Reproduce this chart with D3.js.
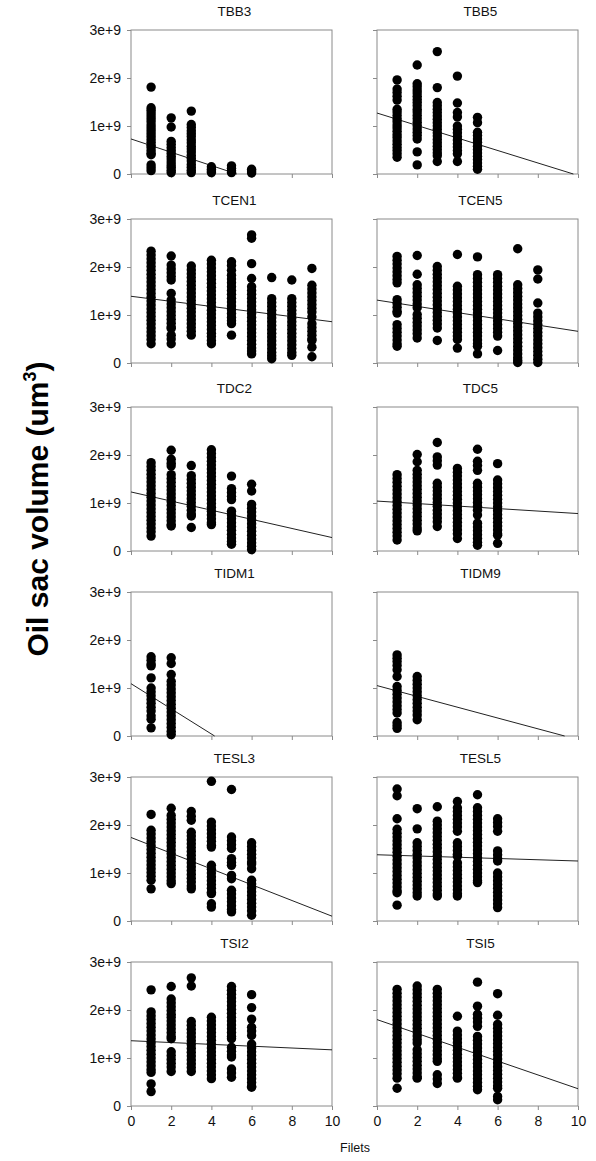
<!DOCTYPE html>
<html><head><meta charset="utf-8">
<script src="https://cdn.jsdelivr.net/npm/d3@7"></script>
<style>
body{margin:0;background:#fff}
svg{display:block}
text{font-family:Arial,"Liberation Sans",sans-serif}
</style>
</head><body>
<svg id="chart" width="596" height="1161"></svg>
<script>
// Values are oil sac volumes in units of 1e9 um^3, one array per filet (x = 1, 2, 3 ...)
const UNIT = 1e9;
const TBB3 = [
 [1.81,1.38,1.33,1.27,1.21,1.15,1.09,1.02,0.96,0.90,0.84,0.78,0.72,0.66,0.60,0.55,0.49,0.43,0.40,0.19,0.13,0.07],
 [1.17,0.98,0.68,0.62,0.55,0.49,0.43,0.37,0.31,0.25,0.19,0.14,0.08,0.03],
 [1.31,1.03,0.97,0.90,0.84,0.78,0.71,0.65,0.58,0.52,0.46,0.39,0.33,0.27,0.20,0.14,0.08,0.03],
 [0.15,0.10,0.06,0.03],
 [0.17,0.12,0.07,0.03],
 [0.10,0.06,0.02]];
const TBB5 = [
 [1.96,1.77,1.70,1.62,1.54,1.35,1.29,1.22,1.15,1.09,1.02,0.96,0.89,0.82,0.76,0.69,0.62,0.55,0.49,0.42,0.35],
 [2.27,1.88,1.82,1.75,1.69,1.62,1.55,1.49,1.42,1.35,1.29,1.22,1.15,1.08,1.01,0.94,0.87,0.80,0.73,0.46,0.19],
 [2.55,1.80,1.49,1.42,1.35,1.28,1.21,1.14,1.07,1.00,0.93,0.86,0.79,0.72,0.65,0.58,0.51,0.44,0.38,0.26],
 [2.04,1.48,1.28,1.19,1.00,0.93,0.86,0.78,0.71,0.63,0.56,0.49,0.42,0.26],
 [1.18,1.07,0.87,0.80,0.73,0.66,0.58,0.51,0.44,0.37,0.30,0.23,0.16,0.10]];
const TCEN1 = [
 [2.33,2.25,2.17,2.09,2.01,1.93,1.85,1.77,1.69,1.61,1.53,1.45,1.37,1.29,1.21,1.13,1.05,0.97,0.89,0.81,0.73,0.65,0.57,0.49,0.40],
 [2.23,2.04,1.96,1.88,1.80,1.73,1.45,1.31,1.23,1.15,1.07,0.99,0.91,0.83,0.75,0.72,0.58,0.50,0.40],
 [2.02,1.94,1.86,1.78,1.70,1.62,1.54,1.46,1.38,1.30,1.22,1.14,1.06,0.98,0.90,0.82,0.74,0.66,0.58],
 [2.14,2.06,1.98,1.90,1.82,1.74,1.66,1.58,1.50,1.42,1.34,1.26,1.18,1.10,1.02,0.94,0.86,0.78,0.70,0.62,0.55,0.47,0.40],
 [2.11,2.03,1.93,1.83,1.75,1.67,1.59,1.51,1.43,1.35,1.27,1.19,1.11,1.03,0.95,0.88,0.82,0.58],
 [2.67,2.60,2.07,1.76,1.59,1.51,1.43,1.35,1.27,1.19,1.11,1.03,0.95,0.87,0.79,0.71,0.63,0.55,0.47,0.39,0.31,0.25,0.19],
 [1.78,1.34,1.26,1.18,1.10,1.02,0.94,0.86,0.78,0.70,0.62,0.54,0.46,0.38,0.30,0.22,0.15,0.09],
 [1.73,1.34,1.26,1.18,1.10,1.02,0.94,0.86,0.78,0.70,0.62,0.54,0.46,0.38,0.30,0.22,0.16],
 [1.97,1.62,1.54,1.46,1.38,1.30,1.22,1.14,1.06,0.96,0.82,0.74,0.66,0.58,0.50,0.47,0.33,0.13]];
const TCEN5 = [
 [2.22,2.14,2.06,1.98,1.90,1.82,1.74,1.67,1.32,1.24,1.16,1.08,1.04,0.80,0.72,0.64,0.56,0.48,0.40,0.35],
 [2.24,1.85,1.63,1.55,1.47,1.39,1.31,1.23,1.15,1.01,0.93,0.85,0.77,0.69,0.61,0.52],
 [2.01,1.93,1.85,1.77,1.69,1.61,1.53,1.45,1.37,1.29,1.21,1.13,1.05,0.97,0.89,0.81,0.73,0.47],
 [2.26,1.60,1.52,1.44,1.36,1.28,1.20,1.12,1.04,0.96,0.88,0.80,0.72,0.64,0.56,0.49,0.31],
 [2.21,1.84,1.76,1.68,1.60,1.52,1.44,1.36,1.28,1.20,1.12,1.04,0.96,0.88,0.80,0.72,0.64,0.56,0.48,0.40,0.35,0.19],
 [1.84,1.76,1.68,1.60,1.52,1.44,1.36,1.28,1.20,1.12,1.04,0.96,0.88,0.80,0.72,0.64,0.56,0.26],
 [2.38,1.63,1.55,1.47,1.39,1.31,1.23,1.15,1.07,0.99,0.91,0.83,0.75,0.67,0.59,0.51,0.43,0.35,0.27,0.19,0.11,0.05,0.01],
 [1.94,1.75,1.25,1.04,0.96,0.88,0.80,0.72,0.64,0.56,0.48,0.40,0.32,0.24,0.16,0.08,0.01]];
const TDC2 = [
 [1.84,1.76,1.68,1.60,1.52,1.44,1.36,1.28,1.20,1.12,1.04,0.96,0.88,0.80,0.72,0.64,0.56,0.48,0.40,0.31],
 [2.10,1.91,1.83,1.77,1.59,1.51,1.43,1.35,1.27,1.19,1.11,1.03,0.95,0.87,0.79,0.71,0.63,0.55,0.52],
 [1.78,1.57,1.49,1.41,1.33,1.25,1.17,1.09,1.01,0.93,0.85,0.77,0.73,0.49],
 [2.11,2.03,1.95,1.87,1.79,1.71,1.63,1.55,1.47,1.39,1.31,1.23,1.15,1.07,0.99,0.91,0.83,0.75,0.67,0.59,0.55],
 [1.56,1.30,1.22,1.14,1.07,0.83,0.75,0.67,0.59,0.51,0.43,0.35,0.27,0.20,0.14],
 [1.39,1.25,0.97,0.89,0.81,0.73,0.65,0.57,0.49,0.41,0.33,0.25,0.17,0.10,0.03]];
const TDC5 = [
 [1.59,1.51,1.43,1.35,1.27,1.19,1.11,1.03,0.95,0.87,0.79,0.71,0.63,0.55,0.47,0.39,0.31,0.23],
 [2.01,1.86,1.68,1.60,1.52,1.44,1.36,1.28,1.20,1.12,1.04,0.96,0.88,0.80,0.72,0.64,0.56,0.48,0.42],
 [2.26,1.96,1.88,1.79,1.41,1.33,1.25,1.17,1.09,1.01,0.93,0.85,0.77,0.69,0.61,0.51],
 [1.72,1.64,1.56,1.48,1.40,1.32,1.24,1.16,1.08,1.00,0.92,0.84,0.76,0.68,0.60,0.52,0.44,0.36,0.26],
 [2.12,1.87,1.78,1.68,1.41,1.33,1.25,1.17,1.09,1.01,0.93,0.85,0.75,0.58,0.50,0.42,0.34,0.26,0.18,0.12],
 [1.82,1.48,1.40,1.32,1.24,1.16,1.08,1.00,0.92,0.84,0.76,0.68,0.60,0.52,0.44,0.36,0.33,0.16]];
const TIDM1 = [
 [1.65,1.58,1.50,1.46,1.21,1.00,0.92,0.84,0.76,0.68,0.60,0.52,0.42,0.35,0.17],
 [1.63,1.51,1.28,1.14,1.06,0.98,0.90,0.82,0.74,0.66,0.58,0.50,0.42,0.34,0.26,0.18,0.10,0.03]];
const TIDM9 = [
 [1.69,1.62,1.55,1.47,1.38,1.24,1.03,0.95,0.87,0.79,0.71,0.63,0.55,0.48,0.28,0.22,0.16],
 [1.24,1.16,1.08,1.00,0.92,0.84,0.76,0.68,0.60,0.52,0.44,0.34]];
const TESL3 = [
 [2.22,1.89,1.81,1.73,1.65,1.57,1.49,1.41,1.33,1.25,1.17,1.09,1.01,0.93,0.85,0.67],
 [2.35,2.20,2.12,2.04,1.96,1.88,1.80,1.72,1.64,1.56,1.48,1.40,1.32,1.24,1.16,1.08,1.00,0.92,0.84,0.78],
 [2.28,2.18,2.10,1.85,1.77,1.69,1.61,1.53,1.45,1.37,1.29,1.21,1.13,1.05,0.97,0.89,0.81,0.73,0.67],
 [2.91,2.06,1.98,1.90,1.82,1.74,1.66,1.58,1.54,1.16,1.08,1.00,0.92,0.84,0.76,0.68,0.60,0.57,0.36,0.29],
 [2.74,1.75,1.67,1.59,1.51,1.30,1.22,1.16,0.95,0.88,0.64,0.56,0.48,0.40,0.32,0.24,0.19],
 [1.63,1.55,1.47,1.39,1.31,1.23,1.19,1.09,0.85,0.77,0.69,0.61,0.53,0.45,0.37,0.29,0.21,0.12]];
const TESL5 = [
 [2.75,2.61,2.13,1.91,1.83,1.75,1.67,1.59,1.51,1.43,1.35,1.27,1.19,1.11,1.03,0.95,0.87,0.79,0.71,0.63,0.59,0.33],
 [2.34,1.92,1.63,1.55,1.47,1.39,1.31,1.23,1.15,1.07,0.99,0.91,0.83,0.75,0.67,0.59,0.52],
 [2.38,2.08,2.00,1.92,1.84,1.76,1.68,1.60,1.52,1.44,1.36,1.28,1.20,1.12,1.04,0.96,0.88,0.80,0.72,0.64,0.56,0.52],
 [2.49,2.36,2.28,2.20,2.12,2.04,1.96,1.87,1.63,1.55,1.47,1.39,1.35,1.21,1.13,1.05,0.97,0.89,0.81,0.73,0.65,0.57,0.52],
 [2.63,2.36,2.28,2.20,2.12,2.04,1.96,1.88,1.80,1.72,1.64,1.56,1.48,1.40,1.32,1.24,1.16,1.08,1.00,0.92,0.84,0.80],
 [2.13,2.05,1.97,1.87,1.46,1.38,1.30,1.25,1.00,0.92,0.84,0.76,0.68,0.60,0.52,0.44,0.36,0.28]];
const TSI2 = [
 [2.42,1.96,1.88,1.80,1.72,1.64,1.56,1.48,1.40,1.32,1.24,1.16,1.08,1.00,0.92,0.84,0.76,0.70,0.46,0.30],
 [2.49,2.23,2.15,2.07,1.99,1.91,1.85,1.77,1.69,1.61,1.53,1.45,1.40,1.13,1.05,0.97,0.89,0.81,0.72],
 [2.67,2.50,1.76,1.68,1.60,1.52,1.44,1.36,1.28,1.20,1.12,1.04,0.96,0.88,0.80,0.72],
 [1.85,1.77,1.69,1.61,1.53,1.45,1.37,1.29,1.21,1.13,1.05,0.97,0.89,0.81,0.73,0.65,0.57],
 [2.49,2.41,2.33,2.25,2.17,2.09,2.01,1.93,1.85,1.77,1.69,1.61,1.53,1.45,1.40,1.22,1.14,1.06,1.02,0.77,0.69,0.60],
 [2.32,2.05,1.81,1.64,1.56,1.47,1.29,1.21,1.13,1.05,0.97,0.89,0.81,0.73,0.65,0.57,0.49,0.41,0.39]];
const TSI5 = [
 [2.43,2.35,2.27,2.19,2.11,2.03,1.95,1.87,1.79,1.71,1.63,1.55,1.47,1.39,1.31,1.23,1.15,1.07,0.99,0.91,0.83,0.75,0.67,0.58,0.37],
 [2.50,2.42,2.34,2.26,2.18,2.10,2.02,1.94,1.86,1.78,1.70,1.62,1.54,1.46,1.38,1.31,1.17,1.09,1.01,0.93,0.85,0.77,0.69,0.61,0.58],
 [2.43,2.35,2.27,2.19,2.11,2.03,1.95,1.87,1.79,1.71,1.63,1.55,1.47,1.39,1.31,1.23,1.15,1.07,0.99,0.93,0.65,0.56,0.47],
 [1.87,1.56,1.48,1.40,1.32,1.24,1.16,1.08,1.00,0.92,0.84,0.76,0.68,0.60,0.58],
 [2.58,2.08,1.91,1.83,1.75,1.66,1.45,1.37,1.29,1.21,1.13,1.05,0.97,0.89,0.81,0.73,0.65,0.57,0.49,0.41,0.34],
 [2.34,1.89,1.70,1.62,1.54,1.46,1.38,1.30,1.22,1.14,1.06,0.98,0.90,0.82,0.74,0.66,0.58,0.50,0.42,0.37,0.20,0.13]];

const panelNames = ["TBB3","TBB5","TCEN1","TCEN5","TDC2","TDC5","TIDM1","TIDM9","TESL3","TESL5","TSI2","TSI5"];
const panelData = [TBB3,TBB5,TCEN1,TCEN5,TDC2,TDC5,TIDM1,TIDM9,TESL3,TESL5,TSI2,TSI5];
// regression line: value (1e9) at filets = 0, and slope per filet (1e9)
const lineIntercepts = [0.73,1.27,1.39,1.31,1.23,1.04,1.09,1.05,1.74,1.38,1.36,1.80];
const lineSlopes = [-0.1386,-0.130,-0.053,-0.065,-0.095,-0.026,-0.262,-0.1125,-0.164,-0.013,-0.019,-0.144];

const yTickValues = [0,1e9,2e9,3e9];
const yTickLabels = ["0","1e+9","2e+9","3e+9"];
const xTickValues = [0,2,4,6,8,10];
const xTickLabels = ["0","2","4","6","8","10"];
const xLabel = "Filets";

// layout
const colLeft = [131,377], plotW = 201;
const rowTop = [30,219,407,592,777,962], plotH = 144;
const frameColor = "#8a8a8a";

const svg = d3.select("#chart");

panelNames.forEach((name,i)=>{
  const col = i%2, row = Math.floor(i/2);
  const g = svg.append("g").attr("transform",`translate(${colLeft[col]},${rowTop[row]})`);
  const x = d3.scaleLinear().domain([0,10]).range([0,plotW]);
  const y = d3.scaleLinear().domain([0,3e9]).range([plotH,0]);

  // y axis
  const ya = g.append("g").call(d3.axisLeft(y).tickValues(yTickValues).tickSize(4).tickPadding(6)
      .tickFormat((d,k)=> col===0 ? yTickLabels[k] : ""));
  ya.select(".domain").remove();
  ya.selectAll("line").attr("stroke",frameColor);
  ya.selectAll("text").attr("font-size",14).attr("fill","#111")
    .attr("font-family","Arial, 'Liberation Sans', sans-serif");

  // x axis
  const xa = g.append("g").attr("transform",`translate(0,${plotH})`)
    .call(d3.axisBottom(x).tickValues(xTickValues).tickSize(4).tickPadding(6)
      .tickFormat((d,k)=> row===5 ? xTickLabels[k] : ""));
  xa.select(".domain").remove();
  xa.selectAll("line").attr("stroke",frameColor);
  xa.selectAll("text").attr("font-size",14).attr("fill","#111")
    .attr("font-family","Arial, 'Liberation Sans', sans-serif");

  // frame
  g.append("rect").attr("x",0).attr("y",0).attr("width",plotW).attr("height",plotH)
    .attr("fill","none").attr("stroke",frameColor).attr("stroke-width",1);

  // title
  g.append("text").attr("x",plotW/2+3).attr("y",-14).attr("text-anchor","middle")
    .attr("font-size",13.5).attr("fill","#111").text(name);

  // regression line (clipped at zero)
  const b = lineIntercepts[i], m = lineSlopes[i];
  let xEnd = 10;
  if (b + m*10 < 0) xEnd = -b/m;
  g.append("line")
    .attr("x1",x(0)).attr("y1",y(b*UNIT))
    .attr("x2",x(xEnd)).attr("y2",y((b+m*xEnd)*UNIT))
    .attr("stroke","#222").attr("stroke-width",1);

  // points
  const pts = [];
  panelData[i].forEach((vals,fi)=>vals.forEach(v=>pts.push({f:fi+1,v:v*UNIT})));
  g.selectAll("circle").data(pts).enter().append("circle")
    .attr("cx",d=>x(d.f)).attr("cy",d=>y(d.v)).attr("r",4.7).attr("fill","#000");
});

// x axis title
svg.append("text").attr("x",355).attr("y",1152).attr("text-anchor","middle")
  .attr("font-size",12.5).attr("fill","#111").text(xLabel);

// y axis title
const yl = svg.append("text").attr("transform","translate(48,509) rotate(-90)")
  .attr("text-anchor","middle").attr("font-size",30).attr("font-weight","bold").attr("fill","#000");
yl.append("tspan").text("Oil sac volume (um");
yl.append("tspan").attr("font-size",18).attr("dy",-12).text("3");
yl.append("tspan").attr("dy",12).text(")");
</script>
</body></html>
